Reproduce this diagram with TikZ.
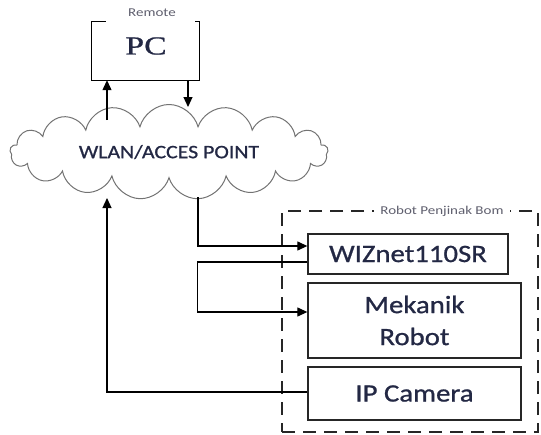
\documentclass[tikz,border=0pt]{standalone}
\usepackage{fontspec}
\usetikzlibrary{arrows.meta,shapes.symbols}
\newfontfamily\boxfont[FakeStretch=1.15,FakeBold=0.9]{Carlito}
\newfontfamily\tagfont[FakeStretch=1.25]{Carlito}
\newfontfamily\pcfont[FakeStretch=1.3,FakeBold=0.8]{Liberation Serif}
\definecolor{ink}{RGB}{35,40,68}
\definecolor{tagink}{RGB}{95,95,110}

\begin{document}
\begin{tikzpicture}[x=1pt,y=-1pt,
  wire/.style={line width=1.2pt, draw=black},
  arr/.style={wire, -{Triangle[length=10pt,width=9pt]}},
  unit/.style={draw=black!85, line width=1.3pt, inner sep=0pt, text=ink,
    font=\boxfont\fontsize{25}{32}\selectfont, align=center},
  tag/.style={text=tagink, font=\tagfont\fontsize{12}{14}\selectfont, inner sep=1pt},
]
\useasboundingbox (0,0) rectangle (541,434);

% remote PC, drawn as an open-topped box
\node (pc) [minimum width=107pt, minimum height=58pt, inner sep=0pt] at (145.5,51) {};
\draw[wire] ([xshift=14pt]pc.north west) -- (pc.north west) -- (pc.south west)
  -- (pc.south east) -- (pc.north east) -- ([xshift=-4pt]pc.north east);
\node (pclabel) [font=\pcfont\fontsize{26}{30}\selectfont, text=ink] at (146,46) {PC};
\node (remote) [tag] at (152,13) {Remote};

% wireless network
\node (wlan) [cloud, cloud puffs=17, cloud ignores aspect, draw=black!55, line width=1pt,
  minimum width=318pt, minimum height=95pt, text=ink,
  font=\boxfont\fontsize{19}{22}\selectfont] at (169,152) {WLAN/ACCES POINT};

% robot enclosure
\node (robot) [draw=black!85, line width=2pt, dash pattern=on 13pt off 8pt,
  minimum width=256pt, minimum height=221pt, inner sep=0pt] at (410,321.5) {};
\node (robotlabel) [tag, fill=white, inner xsep=6pt] at (442,211) {Robot Penjinak Bom};

% robot units
\node (wiz) [unit, minimum width=200pt, minimum height=40pt] at (408,254) {WIZnet110SR};
\node (mek) [unit, minimum width=213pt, minimum height=75pt] at (414.5,320.5) {Mekanik\\Robot};
\node (ipcam) [unit, minimum width=213pt, minimum height=53pt] at (414.5,393.5) {IP Camera};

% points where the links meet the cloud
\coordinate (upout) at (107,120);
\coordinate (downin) at (188,107);
\coordinate (wizout) at (198,197);
\coordinate (camin) at (107,198);

% links
\draw[arr] (upout) -- (upout |- pc.south);
\draw[arr] (pc.south -| downin) -- (downin);
\draw[arr] (wizout) |- ([yshift=8pt]wiz.west);
\draw[arr] ([yshift=-8pt]wiz.west) -- ++(-110,0) |- ([yshift=8.5pt]mek.west);
\draw[arr] ([yshift=1.5pt]ipcam.west) -| (camin);
\end{tikzpicture}
\end{document}
